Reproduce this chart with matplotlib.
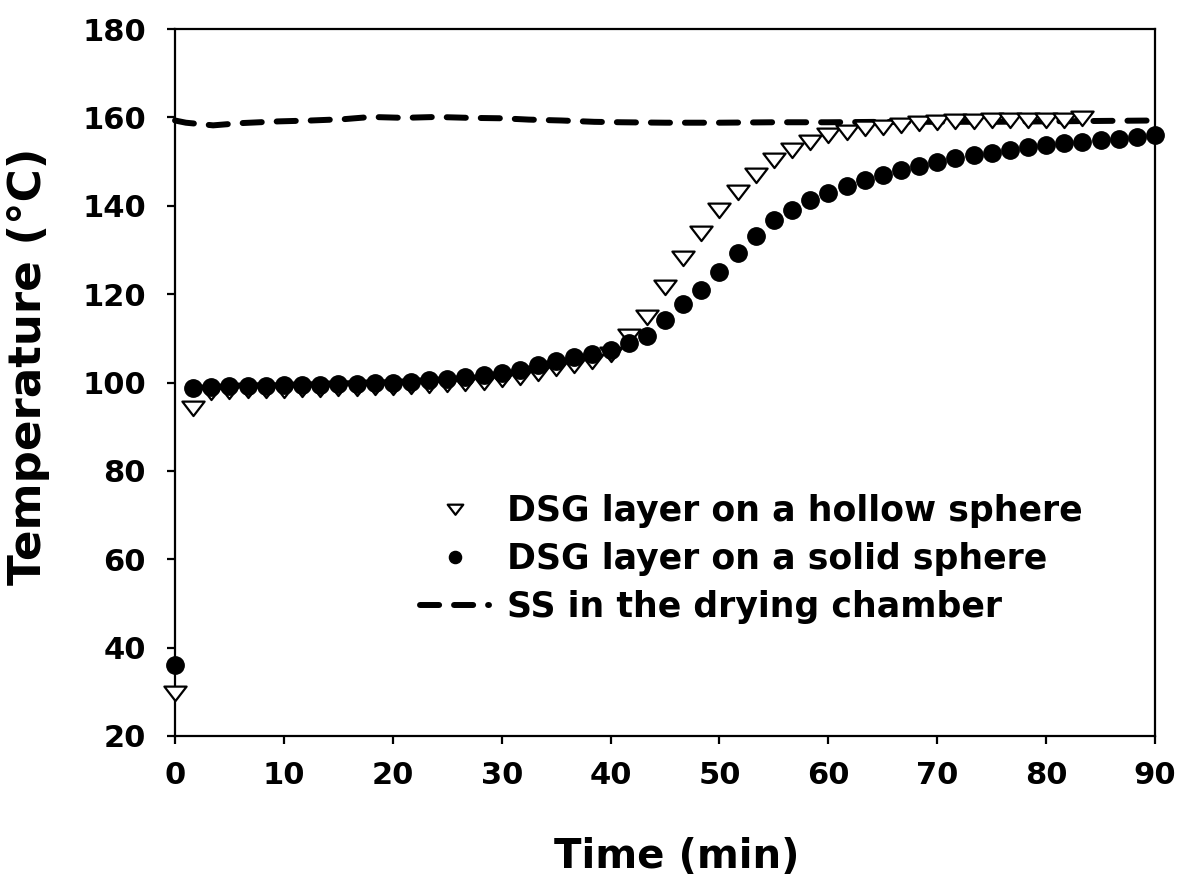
import matplotlib
matplotlib.use('Agg')
import numpy as np
from matplotlib import pyplot as plt
from matplotlib.path import Path

plt.rcParams['font.family'] = ['DejaVu Sans']
plt.rcParams['font.weight'] = 'bold'

# sampling every 100 s (1.667 min)
time_solid = [i * 100 / 60 for i in range(55)]
temp_solid = [36.0, 98.7, 99.0, 99.1, 99.2, 99.3, 99.4, 99.4, 99.5, 99.6, 99.7, 99.8, 100.0,
              100.2, 100.5, 100.8, 101.2, 101.7, 102.2, 102.9, 103.9, 104.9, 105.7, 106.5, 107.4,
              108.9, 110.5, 114.2, 117.8, 121.0, 125.0, 129.2, 133.2, 136.7, 139.0, 141.3, 143.0,
              144.5, 145.8, 147.0, 148.1, 149.0, 150.0, 150.7, 151.5, 152.0, 152.6, 153.2, 153.8,
              154.1, 154.5, 154.9, 155.0, 155.5, 156.0]

time_hollow = [i * 100 / 60 for i in range(51)]
temp_hollow = [29.7, 94.2, 97.8, 98.0, 98.2, 98.3, 98.4, 98.5, 98.6, 98.7, 98.8, 98.9, 99.0,
               99.2, 99.4, 99.6, 99.8, 100.2, 100.7, 101.3, 102.2, 103.2, 104.0, 104.8, 106.5,
               110.5, 114.9, 121.7, 128.1, 133.8, 139.0, 143.2, 147.0, 150.4, 152.6, 154.5, 156.0,
               156.8, 157.5, 157.9, 158.3, 158.7, 159.0, 159.1, 159.2, 159.3, 159.3, 159.4, 159.4,
               159.5, 159.8]

time_ss = [0, 1, 3.5, 6, 9.5, 12.5, 15.5, 18, 21, 24, 27, 30, 32.5, 35.5, 38.5, 41, 45, 50,
           55, 60, 65, 70, 75, 80, 85, 90]
temp_ss = [159.3, 158.8, 158.2, 158.7, 159.1, 159.3, 159.6, 160.1, 159.9, 160.1, 159.9, 159.8,
           159.5, 159.3, 159.0, 158.9, 158.8, 158.8, 158.9, 158.9, 159.0, 159.0, 159.0, 159.1,
           159.2, 159.3]

labels = ['DSG layer on a hollow sphere', 'DSG layer on a solid sphere', 'SS in the drying chamber']

# flattened down-pointing triangle like the original
tri = Path([(-1, 0.62), (1, 0.62), (0, -0.68), (-1, 0.62)],
           [Path.MOVETO, Path.LINETO, Path.LINETO, Path.CLOSEPOLY])

fig = plt.figure(figsize=(11.81, 8.88), dpi=100)
ax = fig.add_axes([0.1482, 0.1712, 0.8298, 0.7961])

ax.plot(time_ss, temp_ss, color='black', linewidth=4.3, dashes=(3.2, 2.5),
        dash_capstyle='round', label=labels[2], zorder=2, clip_on=False)
ax.plot(time_hollow, temp_hollow, linestyle='none', marker=tri, markersize=16,
        markerfacecolor='white', markeredgecolor='black', markeredgewidth=1.6,
        label=labels[0], zorder=3, clip_on=False)
ax.plot(time_solid, temp_solid, linestyle='none', marker='o', markersize=12.5,
        color='black', label=labels[1], zorder=4, clip_on=False)

ax.set_xlim(0, 90)
ax.set_ylim(20, 180)
ax.set_xticks(np.arange(0, 91, 10))
ax.set_yticks(np.arange(20, 181, 20))
ax.tick_params(direction='out', length=6, width=1.6, labelsize=22,
               top=False, right=False)
ax.tick_params(axis='x', pad=12)
ax.tick_params(axis='y', pad=15)
for lbl in ax.get_xticklabels() + ax.get_yticklabels():
    lbl.set_fontweight('bold')
for sp in ax.spines.values():
    sp.set_linewidth(1.6)

ax.set_xlabel('Time (min)', fontsize=29, fontweight='bold')
ax.set_ylabel('Temperature (°C)', fontsize=32.5, fontweight='bold')
ax.xaxis.set_label_coords(0.512, -0.143)
ax.yaxis.set_label_coords(-0.128, 0.523)

handles, _ = ax.get_legend_handles_labels()
order = [1, 2, 0]
leg = ax.legend([handles[i] for i in order], [labels[0], labels[1], labels[2]],
                loc='lower left', bbox_to_anchor=(0.218, 0.114), frameon=False,
                prop={'size': 25, 'weight': 'bold'}, markerscale=0.7,
                handlelength=2.0, handletextpad=0.5, labelspacing=0.40)

fig.savefig('out.png', dpi=100)
